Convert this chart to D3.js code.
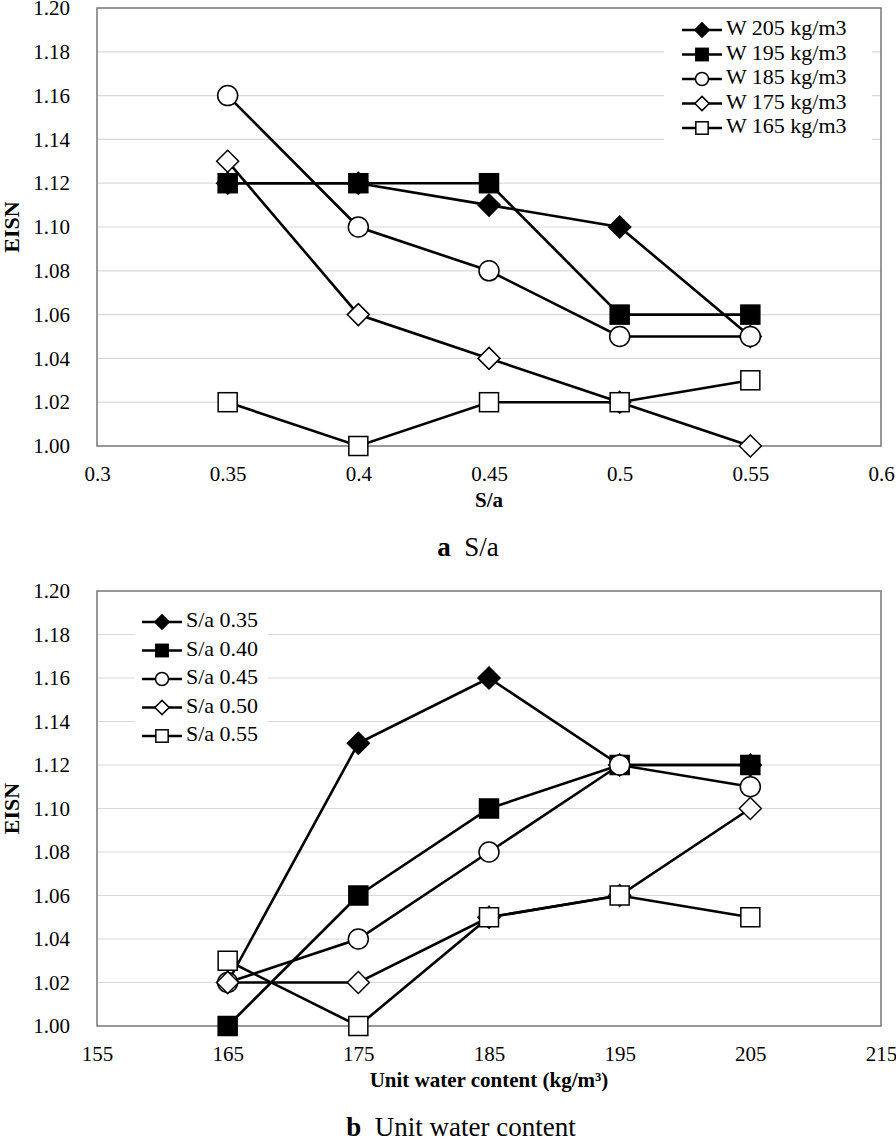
<!DOCTYPE html>
<html><head><meta charset="utf-8">
<script src="https://cdn.jsdelivr.net/npm/d3@7"></script>
<style>body{margin:0;background:#fff}svg{display:block}svg text{font-family:"Liberation Serif","Tinos","Times New Roman","DejaVu Serif","Noto Serif",serif !important;fill:#000}</style>
</head><body><svg id="c" width="896" height="1142"></svg>
<script>
// ---- data ----
const saValues = [0.35, 0.40, 0.45, 0.50, 0.55];
const waterValues = [165, 175, 185, 195, 205];
const yTicks = [1.00,1.02,1.04,1.06,1.08,1.10,1.12,1.14,1.16,1.18,1.20];
const xTicksA = [0.3,0.35,0.4,0.45,0.5,0.55,0.6];
const xTicksALabels = ["0.3","0.35","0.4","0.45","0.5","0.55","0.6"];
const xTicksB = [155,165,175,185,195,205,215];
const shapes = ["diamondFilled","squareFilled","circleOpen","diamondOpen","squareOpen"];
// chart a: series by water content, values over S/a
const namesA = ["W 205 kg/m3","W 195 kg/m3","W 185 kg/m3","W 175 kg/m3","W 165 kg/m3"];
const w205 = [1.12,1.12,1.11,1.10,1.05];
const w195 = [1.12,1.12,1.12,1.06,1.06];
const w185 = [1.16,1.10,1.08,1.05,1.05];
const w175 = [1.13,1.06,1.04,1.02,1.00];
const w165 = [1.02,1.00,1.02,1.02,1.03];
// chart b: series by S/a, values over water content
const namesB = ["S/a 0.35","S/a 0.40","S/a 0.45","S/a 0.50","S/a 0.55"];
const sa035 = [1.02,1.13,1.16,1.12,1.12];
const sa040 = [1.00,1.06,1.10,1.12,1.12];
const sa045 = [1.02,1.04,1.08,1.12,1.11];
const sa050 = [1.02,1.02,1.05,1.06,1.10];
const sa055 = [1.03,1.00,1.05,1.06,1.05];

const FONT = '"Liberation Serif","Tinos","Times New Roman","DejaVu Serif","Noto Serif",serif';
const svg = d3.select("#c");

function marker(g, shape, x, y, big){
  const s = big ? 1 : 0.65;
  if(shape==="diamondFilled"||shape==="diamondOpen"){
    const h = 11*s;
    g.append("path").attr("d",`M${x},${y-h}L${x+h},${y}L${x},${y+h}L${x-h},${y}Z`)
      .attr("fill", shape==="diamondFilled"?"#000":"#fff").attr("stroke","#000").attr("stroke-width",1.5);
  } else if(shape==="squareFilled"||shape==="squareOpen"){
    const h = 9.5*s;
    g.append("rect").attr("x",x-h).attr("y",y-h).attr("width",2*h).attr("height",2*h)
      .attr("fill", shape==="squareFilled"?"#000":"#fff").attr("stroke","#000").attr("stroke-width",1.5);
  } else {
    g.append("circle").attr("cx",x).attr("cy",y).attr("r",10*s)
      .attr("fill","#fff").attr("stroke","#000").attr("stroke-width",1.5);
  }
}

function chart(cfg){
  const x = d3.scaleLinear().domain(cfg.xDomain).range([97,881]);
  const y = d3.scaleLinear().domain([1.00,1.20]).range([cfg.bottom,cfg.top]);
  const g = svg.append("g").style("font-family",FONT);
  // grid
  g.selectAll(null).data(yTicks.slice(1,-1)).join("line")
    .attr("x1",97).attr("x2",881).attr("y1",d=>y(d)).attr("y2",d=>y(d))
    .attr("stroke","#d9d9d9").attr("stroke-width",1.2);
  // y labels
  const ya = g.append("g").attr("transform","translate(97,0)")
    .call(d3.axisLeft(y).tickValues(yTicks).tickFormat(d3.format(".2f")).tickSize(0).tickPadding(27));
  ya.attr("font-family",null);
  ya.select(".domain").remove();
  ya.selectAll("text").attr("font-size",21).style("font-family",FONT);
  // x labels
  const xa = g.append("g").attr("transform",`translate(0,${cfg.bottom})`)
    .call(d3.axisBottom(x).tickValues(cfg.xTicks).tickFormat((d,i)=>cfg.xLabels[i]).tickSize(0).tickPadding(20));
  xa.attr("font-family",null);
  xa.select(".domain").remove();
  xa.selectAll("text").attr("font-size",21).style("font-family",FONT);
  // border
  g.append("rect").attr("x",97).attr("y",cfg.top).attr("width",784).attr("height",cfg.bottom-cfg.top)
    .attr("fill","none").attr("stroke","#7f7f7f").attr("stroke-width",1.6);
  // axis titles
  g.append("text").attr("x",489).attr("y",cfg.bottom+56).attr("text-anchor","middle")
    .attr("dominant-baseline","middle").attr("font-size",21).attr("font-weight","bold").text(cfg.xTitle);
  g.append("text").attr("transform",`translate(14,${(cfg.top+cfg.bottom)/2}) rotate(-90)`)
    .attr("text-anchor","middle").attr("dominant-baseline","middle")
    .attr("font-size",22).attr("font-weight","bold").text("EISN");
  // series
  const line = d3.line().x((d,i)=>x(cfg.xs[i])).y(d=>y(d));
  cfg.series.forEach((s,k)=>{
    const sg = g.append("g");
    sg.append("path").attr("d",line(s)).attr("fill","none").attr("stroke","#000").attr("stroke-width",2.6);
    s.forEach((v,i)=>marker(sg, shapes[k], x(cfg.xs[i]), y(v), true));
  });
  // legend
  const lg = g.append("g");
  lg.append("rect").attr("x",cfg.leg.x0).attr("y",cfg.leg.y0).attr("width",cfg.leg.w).attr("height",cfg.leg.h).attr("fill","#fff");
  cfg.names.forEach((n,k)=>{
    const yy = cfg.leg.rowY + k*cfg.leg.dy;
    lg.append("line").attr("x1",cfg.leg.lx).attr("x2",cfg.leg.lx+40).attr("y1",yy).attr("y2",yy)
      .attr("stroke","#000").attr("stroke-width",2.6);
    marker(lg, shapes[k], cfg.leg.lx+20, yy, false);
    lg.append("text").attr("x",cfg.leg.lx+44).attr("y",yy).attr("dominant-baseline","middle")
      .attr("font-size",22).text(n);
  });
  // caption
  const cap = g.append("text").attr("x",cfg.capX).attr("y",cfg.bottom+104).attr("text-anchor","middle")
    .attr("dominant-baseline","middle").attr("font-size",27);
  cap.append("tspan").attr("font-weight","bold").text(cfg.capLetter);
  cap.append("tspan").text("\u2002"+cfg.capText);
}

chart({top:8,bottom:446,xDomain:[0.3,0.6],xTicks:xTicksA,xLabels:xTicksALabels,xs:saValues,
  series:[w205,w195,w185,w175,w165],names:namesA,xTitle:"S/a",
  leg:{x0:664,y0:15,w:208,h:128,lx:682,rowY:30,dy:24.5},capX:468,capLetter:"a",capText:"S/a"});
chart({top:591,bottom:1026,xDomain:[155,215],xTicks:xTicksB,xLabels:xTicksB.map(String),xs:waterValues,
  series:[sa035,sa040,sa045,sa050,sa055],names:namesB,xTitle:"Unit water content (kg/m\u00b3)",
  leg:{x0:135,y0:602,w:133,h:150,lx:142,rowY:622,dy:28.5},capX:461,capLetter:"b",capText:"Unit water content"});
</script></body></html>
